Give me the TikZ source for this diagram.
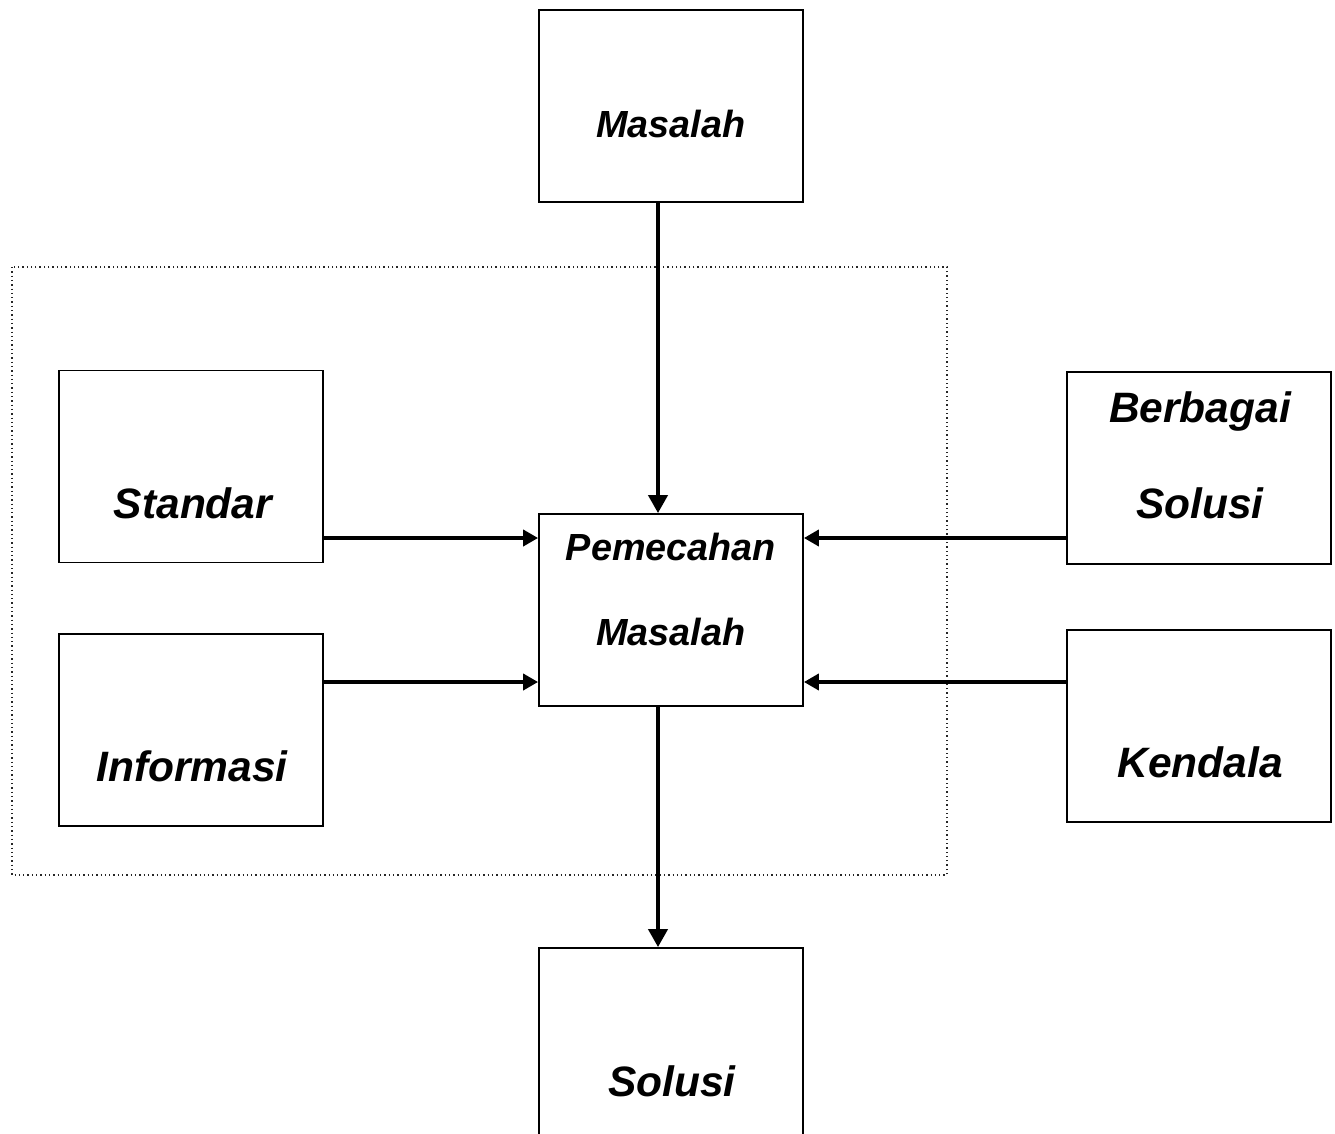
\documentclass[tikz,border=0pt]{standalone}
\usepackage{fontspec}
\setmainfont{Liberation Sans}
\usetikzlibrary{arrows.meta}
\begin{document}
\begin{tikzpicture}[x=1pt,y=-1pt,
  box/.style={draw,line width=1.8pt,minimum width=264pt,minimum height=192pt,inner sep=0pt},
  lbl/.style={anchor=base,inner sep=0pt,font=\fontsize{42.5}{50}\selectfont\bfseries\itshape},
  lblsmall/.style={lbl,font=\fontsize{37.8}{45}\selectfont\bfseries\itshape},
  arrh/.style={line width=4pt,-{Triangle[length=15pt,width=16pt]}},
  arrv/.style={line width=4pt,-{Triangle[length=18pt,width=19pt]}},
  frame/.style={draw=black!85,line width=1.3pt,dash pattern=on 1.3pt off 3pt}]
  \clip (0,0) rectangle (1335,1134);
  \fill[white] (0,0) rectangle (1335,1134);

  % dotted frame around the inner group
  \draw[frame] (12,267) rectangle (947,875);

  % boxes
  \node[box] (mas) at (671,106) {};
  \node[box] (std) at (191,466.5) {};
  \node[box] (inf) at (191,730) {};
  \node[box] (pem) at (671,610) {};
  \node[box] (ber) at (1199,468) {};
  \node[box] (ken) at (1199,726) {};
  \node[box] (sol) at (671,1044) {};

  % labels
  \node[lblsmall] (tmas) at (671,138) {Masalah};
  \node[lbl] (tstd) at (193,518) {Standar};
  \node[lbl] (tinf) at (192,781) {Informasi};
  \node[lblsmall] (tpem1) at (671,560) {Pemecahan};
  \node[lblsmall] (tpem2) at (671,645) {Masalah};
  \node[lbl] (tber1) at (1200,422) {Berbagai};
  \node[lbl] (tber2) at (1200,518) {Solusi};
  \node[lbl] (tken) at (1200,777) {Kendala};
  \node[lbl] (tsol) at (672,1096) {Solusi};

  % connector rows and column
  \coordinate (rowA) at (0,538);
  \coordinate (rowB) at (0,682);
  \coordinate (colV) at (658,0);

  % connectors
  \draw[arrv] (mas.south -| colV) -- (pem.north -| colV);
  \draw[arrv] (pem.south -| colV) -- (sol.north -| colV);
  \draw[arrh] (std.east |- rowA) -- (pem.west |- rowA);
  \draw[arrh] (inf.east |- rowB) -- (pem.west |- rowB);
  \draw[arrh] (ber.west |- rowA) -- (pem.east |- rowA);
  \draw[arrh] (ken.west |- rowB) -- (pem.east |- rowB);
\end{tikzpicture}
\end{document}
